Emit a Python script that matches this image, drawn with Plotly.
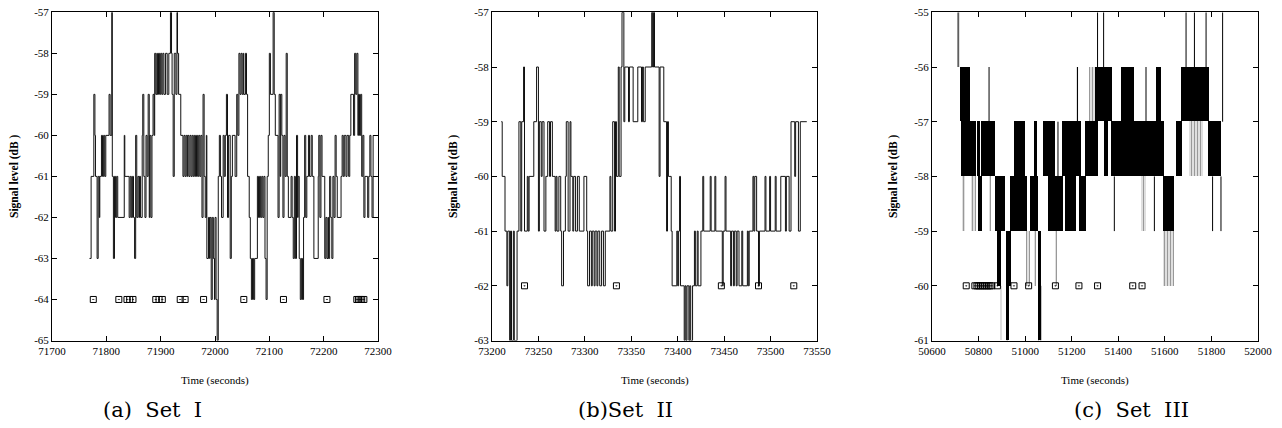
import plotly.graph_objects as go

# ---------------- Panel (a) Set I ----------------
p1_time = [71769, 71772, 71777, 71779, 71780, 71783, 71785, 71787, 71788, 71791, 71793, 71795, 71797, 71799,
           71805, 71807, 71810, 71811, 71813, 71815, 71817, 71819, 71821, 71833, 71834, 71842, 71844, 71846,
           71848, 71850, 71852, 71854, 71856, 71858, 71860, 71861, 71863, 71866, 71867, 71869, 71871, 71873,
           71875, 71877, 71879, 71880, 71882, 71884, 71886, 71888, 71889, 71891, 71893, 71894, 71896, 71898,
           71900, 71902, 71904, 71906, 71909, 71912, 71915, 71918, 71920, 71921, 71923, 71925, 71928, 71930,
           71931, 71933, 71937, 71941, 71943, 71945, 71947, 71949, 71950, 71952, 71954, 71956, 71958, 71960,
           71962, 71964, 71966, 71968, 71970, 71972, 71974, 71976, 71978, 71980, 71982, 71984, 71985, 71988,
           71990, 71991, 71993, 71995, 71997, 71999, 72000, 72002, 72004, 72006, 72008, 72010, 72012, 72015,
           72017, 72019, 72021, 72023, 72025, 72028, 72030, 72032, 72037, 72040, 72042, 72044, 72046, 72048,
           72050, 72052, 72053, 72056, 72058, 72060, 72063, 72065, 72067, 72069, 72071, 72073, 72078, 72080,
           72082, 72084, 72086, 72088, 72090, 72092, 72094, 72096, 72098, 72100, 72102, 72107, 72109, 72111,
           72116, 72118, 72120, 72121, 72123, 72125, 72127, 72129, 72131, 72133, 72135, 72140, 72142, 72144,
           72146, 72148, 72150, 72152, 72153, 72155, 72157, 72159, 72161, 72163, 72165, 72167, 72169, 72172,
           72174, 72177, 72179, 72182, 72190, 72191, 72193, 72195, 72197, 72202, 72204, 72206, 72208, 72209,
           72211, 72213, 72215, 72217, 72219, 72221, 72223, 72225, 72232, 72234, 72236, 72238, 72241, 72243,
           72246, 72248, 72250, 72255, 72257, 72259, 72261, 72263, 72264, 72266, 72268, 72270, 72272, 72274,
           72276, 72281, 72283, 72285, 72287, 72289, 72291]
p1_level = [-63, -61, -59, -60, -61, -63, -61, -62, -61, -60, -61, -60, -61, -60,
            -59, -60, -57, -61, -63, -61, -62, -61, -62, -60, -61, -62, -61, -62,
            -61, -62, -63, -60, -62, -61, -62, -61, -62, -60, -59, -61, -62, -60,
            -61, -59, -62, -60, -62, -60, -59, -60, -58, -59, -58, -59, -58, -59,
            -58, -59, -58, -59, -58, -59, -58, -57, -58, -59, -61, -58, -59, -57,
            -58, -59, -60, -61, -60, -61, -60, -61, -60, -61, -60, -61, -60, -61,
            -60, -61, -60, -61, -60, -61, -60, -62, -59, -61, -62, -60, -63, -62,
            -63, -62, -64, -62, -63, -64, -62, -64, -65, -61, -60, -61, -62, -60,
            -61, -60, -59, -62, -60, -63, -61, -60, -61, -59, -60, -58, -59, -58,
            -59, -58, -59, -58, -59, -61, -62, -63, -64, -63, -64, -63, -61, -62,
            -61, -62, -61, -62, -61, -63, -64, -61, -60, -58, -59, -57, -59, -60,
            -62, -59, -61, -59, -60, -62, -60, -61, -58, -61, -62, -61, -62, -63,
            -61, -63, -60, -62, -61, -63, -64, -63, -64, -62, -60, -62, -61, -60,
            -61, -60, -61, -63, -61, -60, -62, -60, -61, -63, -62, -63, -62, -63,
            -61, -62, -63, -61, -62, -60, -61, -62, -61, -60, -61, -60, -61, -60,
            -61, -60, -59, -60, -58, -59, -58, -60, -59, -60, -59, -61, -60, -62,
            -61, -62, -61, -60, -61, -62, -60]
p1_mark_time = [71776, 71823, 71838, 71843, 71849, 71891, 71897, 71903, 71936, 71945, 71979,
                72053, 72126, 72206, 72261, 72264, 72267, 72270, 72274]
p1_mark_level = [-64] * len(p1_mark_time)
p1_xticks = [71700, 71800, 71900, 72000, 72100, 72200, 72300]
p1_yticks = [-57, -58, -59, -60, -61, -62, -63, -64, -65]

# ---------------- Panel (b) Set II ----------------
p2_time = [73210, 73211, 73214, 73216, 73217, 73219, 73220, 73221, 73223, 73224, 73227, 73229, 73231, 73232,
           73234, 73235, 73238, 73239, 73240, 73245, 73248, 73250, 73251, 73253, 73254, 73256, 73258, 73260,
           73262, 73263, 73265, 73268, 73269, 73270, 73272, 73274, 73275, 73277, 73279, 73280, 73282, 73284,
           73285, 73287, 73288, 73290, 73292, 73294, 73299, 73302, 73303, 73305, 73307, 73308, 73310, 73311,
           73313, 73314, 73316, 73318, 73320, 73322, 73327, 73328, 73330, 73332, 73333, 73334, 73336, 73337,
           73339, 73340, 73342, 73343, 73347, 73348, 73352, 73357, 73361, 73362, 73363, 73365, 73372, 73373,
           73374, 73375, 73380, 73381, 73385, 73388, 73389, 73390, 73393, 73394, 73399, 73400, 73401, 73402,
           73403, 73407, 73408, 73409, 73410, 73412, 73413, 73414, 73416, 73418, 73419, 73421, 73422, 73425,
           73427, 73428, 73435, 73436, 73440, 73441, 73448, 73449, 73451, 73452, 73457, 73458, 73460, 73461,
           73463, 73464, 73466, 73469, 73470, 73475, 73476, 73477, 73481, 73482, 73483, 73485, 73487, 73488,
           73494, 73495, 73499, 73500, 73505, 73506, 73511, 73516, 73517, 73520, 73522, 73526, 73527, 73530,
           73532, 73539]
p2_level = [-59, -60, -61, -62, -61, -63, -61, -63, -61, -63, -61, -59, -61, -59,
            -58, -61, -60, -61, -60, -59, -58, -61, -59, -60, -59, -61, -60, -59,
            -60, -59, -60, -61, -60, -61, -60, -61, -62, -61, -60, -59, -61, -59,
            -60, -61, -60, -61, -60, -61, -60, -61, -62, -61, -62, -61, -62, -61,
            -62, -61, -62, -61, -62, -61, -60, -61, -59, -61, -59, -60, -58, -60,
            -58, -57, -59, -58, -59, -58, -59, -58, -59, -58, -59, -58, -57, -58,
            -57, -58, -60, -58, -59, -61, -59, -60, -61, -62, -61, -62, -61, -60,
            -62, -63, -62, -63, -62, -63, -62, -63, -62, -61, -62, -61, -62, -61,
            -60, -61, -60, -61, -60, -61, -62, -61, -60, -61, -62, -61, -62, -61,
            -62, -61, -62, -61, -62, -61, -62, -61, -60, -61, -60, -61, -62, -61,
            -60, -61, -60, -61, -60, -61, -60, -61, -60, -61, -59, -60, -59, -61,
            -59, -59]
p2_mark_time = [73235, 73334, 73447, 73487, 73525]
p2_mark_level = [-62] * len(p2_mark_time)
p2_xticks = [73200, 73250, 73300, 73350, 73400, 73450, 73500, 73550]
p2_yticks = [-57, -58, -59, -60, -61, -62, -63]

# ---------------- Panel (c) Set III ----------------
# dense oscillation blocks: time span and the two levels the signal toggles between
p3_dense_start = [50719, 50726, 50748, 50795, 50809, 50797, 50872, 50877, 50898, 50916, 50919, 50934, 50952,
                  50965, 51022, 51037, 51055, 51055, 51077, 51098, 51160, 51170, 51231, 51256, 51290, 51301,
                  51340, 51369, 51412, 51426, 51512, 51562, 51593, 51648, 51669, 51784]
p3_dense_end = [50765, 50745, 50790, 50805, 50869, 50816, 50898, 50898, 50915, 50938, 50930, 50965, 50998,
                51008, 51055, 51051, 51070, 51068, 51127, 51163, 51241, 51220, 51263, 51299, 51311, 51373,
                51354, 51426, 51469, 51512, 51598, 51583, 51641, 51674, 51791, 51841]
p3_dense_low = [-57, -58, -58, -58, -58, -59, -59, -60, -59, -60, -61, -59, -58,
                -59, -59, -58, -60, -61, -58, -59, -58, -59, -59, -58, -58, -57,
                -58, -58, -57, -58, -58, -57, -59, -58, -57, -58]
p3_dense_high = [-56, -57, -57, -57, -57, -58, -58, -59, -58, -59, -60, -58, -57,
                 -58, -58, -57, -59, -60, -57, -58, -57, -58, -58, -57, -57, -56,
                 -57, -57, -56, -57, -57, -56, -58, -57, -56, -57]
# sparser (dotted-looking) blocks
p3_sparse_start = [50712, 50729, 50769, 50848, 50895, 51005, 51041, 51127, 51220, 51274, 51290, 51497, 51593, 51705]
p3_sparse_end = [50722, 50741, 50790, 50855, 50902, 51020, 51048, 51137, 51227, 51294, 51304, 51519, 51641, 51762]
p3_sparse_low = [-56, -59, -59, -59, -61, -60, -60, -60, -57, -57, -57, -59, -60, -58]
p3_sparse_high = [-55, -58, -58, -58, -60, -59, -59, -59, -56, -56, -56, -58, -59, -57]
# isolated excursions
p3_spike_time = [50712, 50845, 50923, 51058, 51067, 51141, 51225, 51311, 51337, 51383, 51519, 51555,
                 51691, 51727, 51777, 51805, 51841, 51848]
p3_spike_low = [-56, -57, -61, -61, -61, -58, -57, -56, -56, -59, -57, -59, -56, -56, -56, -59, -59, -57]
p3_spike_high = [-55, -56, -60, -60, -60, -57, -56, -55, -55, -58, -56, -58, -55, -55, -55, -58, -58, -55]
p3_mark_time = [50747, 50784, 50793, 50801, 50809, 50817, 50825, 50833, 50841, 50849, 50857, 50881,
                50952, 51015, 51130, 51231, 51311, 51462, 51502]
p3_mark_level = [-60] * len(p3_mark_time)
p3_xticks = [50600, 50800, 51000, 51200, 51400, 51600, 51800, 52000]
p3_yticks = [-55, -56, -57, -58, -59, -60, -61]

captions = ["(a)\u00a0 Set\u00a0 I", "(b)Set\u00a0 II", "(c)\u00a0 Set\u00a0 III"]
x_title = "Time (seconds)"
y_title = "Signal level (dB )"

# ---------------- figure ----------------
W, H = 1282, 428
fig = go.Figure()

def px_x(p):
    return p / W

def px_y(p):
    return 1 - p / H

x_domains = [[px_x(52), px_x(378)], [px_x(492), px_x(817)], [px_x(932), px_x(1258)]]
y_domain = [px_y(340.5), px_y(12.3)]

line_style = dict(color="#111", width=1, shape="hv")
mark_style = dict(symbol="square-open-dot", size=6, color="black", line=dict(width=1, color="black"))

# panel 1
fig.add_trace(go.Scatter(x=p1_time, y=p1_level, mode="lines", line=line_style, xaxis="x", yaxis="y",
                         showlegend=False))
fig.add_trace(go.Scatter(x=p1_mark_time, y=p1_mark_level, mode="markers", marker=mark_style,
                         xaxis="x", yaxis="y", showlegend=False))
# panel 2
fig.add_trace(go.Scatter(x=p2_time, y=p2_level, mode="lines", line=line_style, xaxis="x2", yaxis="y2",
                         showlegend=False))
fig.add_trace(go.Scatter(x=p2_mark_time, y=p2_mark_level, mode="markers", marker=mark_style,
                         xaxis="x2", yaxis="y2", showlegend=False))

# panel 3
def bar_from(starts, ends, lows, highs):
    centers = [(s + e) / 2 for s, e in zip(starts, ends)]
    widths = [max(e - s, 1) for s, e in zip(starts, ends)]
    heights = [h - l for l, h in zip(lows, highs)]
    return centers, widths, heights

c, w, h = bar_from(p3_sparse_start, p3_sparse_end, p3_sparse_low, p3_sparse_high)
fig.add_trace(go.Bar(x=c, y=h, base=p3_sparse_low, width=w, xaxis="x3", yaxis="y3", showlegend=False,
                     marker=dict(color="white", line=dict(width=0),
                                 pattern=dict(shape="|", fgcolor="#333", bgcolor="white", size=3, solidity=0.55))))
c, w, h = bar_from(p3_dense_start, p3_dense_end, p3_dense_low, p3_dense_high)
fig.add_trace(go.Bar(x=c, y=h, base=p3_dense_low, width=w, xaxis="x3", yaxis="y3", showlegend=False,
                     marker=dict(color="#000", line=dict(width=0))))
sx, sy = [], []
for t, lo, hi in zip(p3_spike_time, p3_spike_low, p3_spike_high):
    sx += [t, t, None]
    sy += [lo, hi, None]
fig.add_trace(go.Scatter(x=sx, y=sy, mode="lines", line=dict(color="black", width=1), xaxis="x3", yaxis="y3",
                         showlegend=False, connectgaps=False))
fig.add_trace(go.Scatter(x=p3_mark_time, y=p3_mark_level, mode="markers", marker=mark_style,
                         xaxis="x3", yaxis="y3", showlegend=False))

tick_font = dict(family="Liberation Serif", size=11, color="black")

def xaxis_cfg(dom, ticks, anchor):
    return dict(domain=dom, range=[ticks[0], ticks[-1]], tickvals=ticks, ticktext=[str(v) for v in ticks],
                ticks="inside", ticklen=5, tickwidth=1, tickcolor="black", mirror="ticks", showline=True,
                linecolor="black", linewidth=1, showgrid=False, zeroline=False, tickfont=tick_font,
                anchor=anchor, automargin=False, ticklabeloverflow="allow")

def yaxis_cfg(ticks, anchor):
    return dict(domain=y_domain, range=[min(ticks), max(ticks)], tickvals=ticks,
                ticktext=["-%d" % abs(v) for v in ticks], ticks="inside", ticklen=5, tickwidth=1,
                tickcolor="black", mirror="ticks", showline=True, linecolor="black", linewidth=1,
                showgrid=False, zeroline=False, tickfont=tick_font, anchor=anchor, automargin=False,
                ticklabeloverflow="allow")

fig.update_layout(
    width=W, height=H, margin=dict(l=0, r=0, t=0, b=0),
    paper_bgcolor="white", plot_bgcolor="white", barmode="overlay", bargap=0,
    xaxis=xaxis_cfg(x_domains[0], p1_xticks, "y"),
    yaxis=yaxis_cfg(p1_yticks, "x"),
    xaxis2=xaxis_cfg(x_domains[1], p2_xticks, "y2"),
    yaxis2=yaxis_cfg(p2_yticks, "x2"),
    xaxis3=xaxis_cfg(x_domains[2], p3_xticks, "y3"),
    yaxis3=yaxis_cfg(p3_yticks, "x3"),
)

ytitle_x = [14, 453, 893]
cap_x = [152, 625, 1131]
for i in range(3):
    cx = (x_domains[i][0] + x_domains[i][1]) / 2
    fig.add_annotation(x=px_x(ytitle_x[i]), y=px_y(176), xref="paper", yref="paper", text="<b>%s</b>" % y_title,
                       textangle=-90, showarrow=False, xanchor="center", yanchor="middle",
                       font=dict(family="Liberation Serif", size=11.5, color="black"))
    fig.add_annotation(x=cx, y=px_y(380), xref="paper", yref="paper", text=x_title, showarrow=False,
                       xanchor="center", yanchor="middle",
                       font=dict(family="Liberation Serif", size=11, color="black"))
    fig.add_annotation(x=px_x(cap_x[i]), y=px_y(410), xref="paper", yref="paper", text=captions[i],
                       showarrow=False, xanchor="center", yanchor="middle",
                       font=dict(family="DejaVu Serif", size=21, color="black"))

fig.write_html("out.html", config={"displayModeBar": False},
               post_script="document.body.style.margin='0';document.body.style.overflow='hidden';")
